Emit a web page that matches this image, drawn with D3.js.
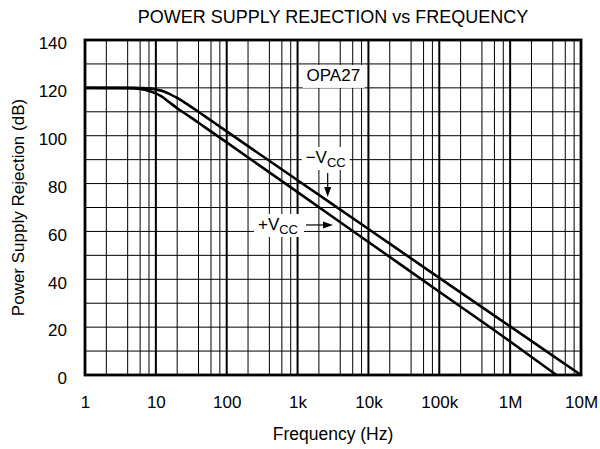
<!DOCTYPE html>
<html>
<head>
<meta charset="utf-8">
<script src="https://cdn.jsdelivr.net/npm/d3@7"></script>
<style>
  body { margin: 0; background: #fff; }
  svg { font-family: "Liberation Sans", Arial, sans-serif; }
</style>
</head>
<body>
<div id="chart"></div>
<script>
// data
const freqTicks = [1, 10, 100, 1e3, 1e4, 1e5, 1e6, 1e7]
const freqLabels = ["1", "10", "100", "1k", "10k", "100k", "1M", "10M"]
const dbTicks = [0, 20, 40, 60, 80, 100, 120, 140]

// -Vcc curve (upper)
const minusFreq = [1, 5, 8, 10, 13, 16, 20, 25, 30, 40, 50, 70, 100, 1e3, 1e4, 1e5, 1e6, 1e7]
const minusPsr = [120, 120, 119.8, 119.3, 118.5, 117.3, 115.8, 114, 112.5, 110, 108, 105, 101.8, 81.4, 61, 40.6, 20.3, 0]

// +Vcc curve (lower)
const plusFreq = [1, 4, 6, 8, 10, 12, 15, 20, 30, 50, 100, 1e3, 1e4, 1e5, 1e6, 4.5e6]
const plusPsr = [120, 119.9, 119.5, 118.7, 117.7, 116.4, 114.3, 111.5, 108, 103.4, 97.2, 76.4, 55.6, 34.8, 14, 0]

const MARGIN = { top: 40, right: 19, bottom: 74, left: 85 }
const WIDTH = 600 - MARGIN.left - MARGIN.right
const HEIGHT = 449 - MARGIN.top - MARGIN.bottom

const svg = d3.select("#chart").append("svg")
  .attr("width", 600)
  .attr("height", 449)

const g = svg.append("g")
  .attr("transform", `translate(${MARGIN.left}, ${MARGIN.top})`)

const x = d3.scaleLog().domain([1, 1e7]).range([0, WIDTH])
const y = d3.scaleLinear().domain([0, 140]).range([HEIGHT, 0])

// grid: minor lines at 2,4,6,8 of each decade
const minorFreq = []
freqTicks.slice(0, -1).forEach(d => [2, 4, 6, 8].forEach(m => minorFreq.push(d * m)))

g.selectAll(".minor").data(minorFreq).enter().append("line")
  .attr("x1", d => x(d)).attr("x2", d => x(d))
  .attr("y1", 0).attr("y2", HEIGHT)
  .attr("stroke", "#000").attr("stroke-width", 1)

g.selectAll(".hgrid").data(d3.range(10, 140, 10)).enter().append("line")
  .attr("x1", 0).attr("x2", WIDTH)
  .attr("y1", d => y(d)).attr("y2", d => y(d))
  .attr("stroke", "#000").attr("stroke-width", 1)

g.selectAll(".major").data(freqTicks.slice(1, -1)).enter().append("line")
  .attr("x1", d => x(d)).attr("x2", d => x(d))
  .attr("y1", 0).attr("y2", HEIGHT)
  .attr("stroke", "#000").attr("stroke-width", 2)

// curves
const line = d3.line()
  .x(d => x(d[0]))
  .y(d => y(d[1]))
  .curve(d3.curveMonotoneX)

const series = [
  d3.zip(minusFreq, minusPsr),
  d3.zip(plusFreq, plusPsr)
]

g.selectAll(".curve").data(series).enter().append("path")
  .attr("d", line)
  .attr("fill", "none")
  .attr("stroke", "#000")
  .attr("stroke-width", 2.6)

// frame
g.append("rect")
  .attr("width", WIDTH).attr("height", HEIGHT)
  .attr("fill", "none").attr("stroke", "#000").attr("stroke-width", 2.8)

// axes
const xAxis = g.append("g")
  .attr("transform", `translate(0, ${HEIGHT})`)
  .call(d3.axisBottom(x).tickValues(freqTicks)
    .tickFormat((d, i) => freqLabels[i]).tickSize(0).tickPadding(21))
xAxis.select(".domain").remove()

const yAxis = g.append("g")
  .call(d3.axisLeft(y).tickValues(dbTicks).tickSize(0).tickPadding(18))
yAxis.select(".domain").remove()
yAxis.selectAll(".tick text").attr("dy", "0.52em")

svg.selectAll(".tick text")
  .attr("font-size", "17px")
  .attr("font-family", "Liberation Sans, Arial, sans-serif")
  .attr("fill", "#000")

// titles
svg.append("text")
  .attr("x", MARGIN.left + WIDTH / 2).attr("y", 23)
  .attr("text-anchor", "middle").attr("font-size", "18px")
  .text("POWER SUPPLY REJECTION vs FREQUENCY")

svg.append("text")
  .attr("x", MARGIN.left + WIDTH / 2).attr("y", 440)
  .attr("text-anchor", "middle").attr("font-size", "17.5px")
  .text("Frequency (Hz)")

svg.append("text")
  .attr("transform", `translate(24, ${MARGIN.top + HEIGHT / 2}) rotate(-90)`)
  .attr("text-anchor", "middle").attr("font-size", "17px")
  .text("Power Supply Rejection (dB)")

// annotations
function label(fx, dbv, main, sub, w) {
  const lx = x(fx), ly = y(dbv)
  g.append("rect")
    .attr("x", lx - 4).attr("y", ly - 16)
    .attr("width", w).attr("height", 23)
    .attr("fill", "#fff")
  const t = g.append("text")
    .attr("x", lx).attr("y", ly)
    .attr("font-size", "17px")
    .text(main)
  if (sub) {
    t.append("tspan").attr("font-size", "13px").attr("dy", 4).text(sub)
  }
}

label(1340, 122.9, "OPA27", null, 62)
label(1300, 88.6, "\u2212V", "CC", 48)
label(276, 60.6, "+V", "CC", 50)

// arrows
const arrows = [
  { from: [2660, 84.4], to: [2660, 74.4] },
  { from: [1315, 62.7], to: [3160, 62.7] }
]
arrows.forEach(a => {
  const x1 = x(a.from[0]), y1 = y(a.from[1])
  const x2 = x(a.to[0]), y2 = y(a.to[1])
  const ang = Math.atan2(y2 - y1, x2 - x1)
  const len = 10, half = 3.5
  const bx = x2 - len * Math.cos(ang), by = y2 - len * Math.sin(ang)
  g.append("line")
    .attr("x1", x1).attr("y1", y1).attr("x2", bx).attr("y2", by)
    .attr("stroke", "#000").attr("stroke-width", 1.2)
  g.append("path")
    .attr("d", `M${x2},${y2}L${bx - half * Math.sin(ang)},${by + half * Math.cos(ang)}L${bx + half * Math.sin(ang)},${by - half * Math.cos(ang)}Z`)
    .attr("fill", "#000")
})
</script>
</body>
</html>
